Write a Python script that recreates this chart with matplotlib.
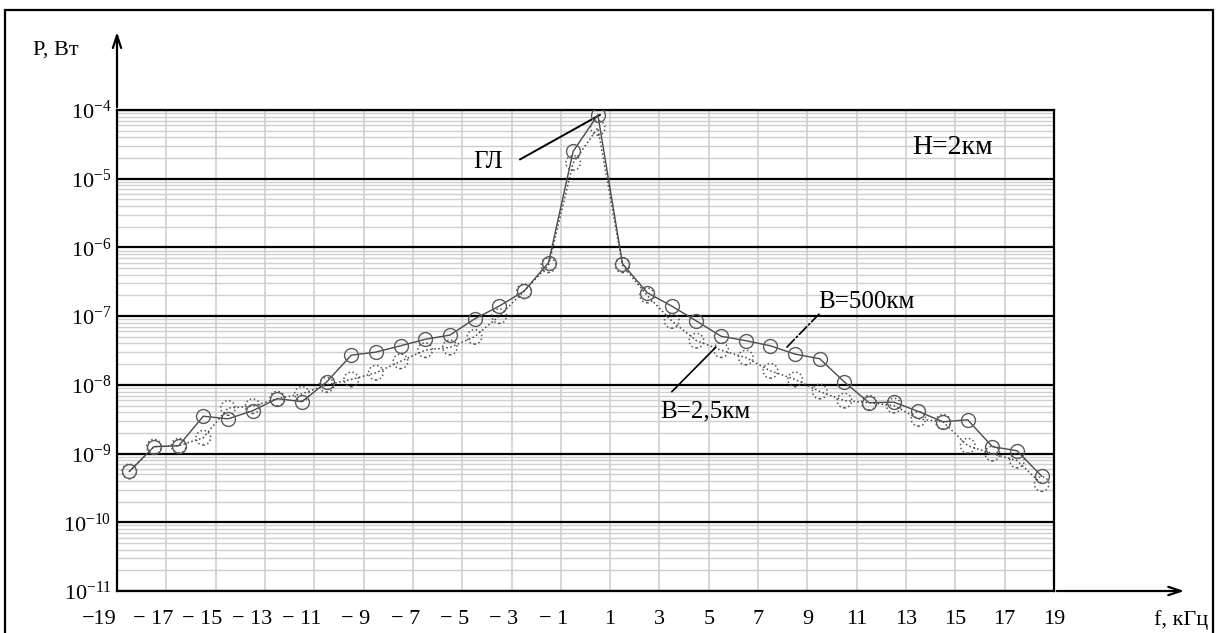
import numpy as np
import matplotlib
matplotlib.use("Agg")
import matplotlib.pyplot as plt
from matplotlib.transforms import ScaledTranslation
from matplotlib.patches import Rectangle

plt.rcParams['font.family'] = ['Liberation Serif', 'DejaVu Serif']
plt.rcParams['mathtext.fontset'] = 'custom'
plt.rcParams['mathtext.rm'] = 'Liberation Serif'
plt.rcParams['mathtext.it'] = 'Liberation Serif'

# frequency points, kHz
f_khz = [-18.5, -17.5, -16.5, -15.5, -14.5, -13.5, -12.5, -11.5, -10.5, -9.5,
         -8.5, -7.5, -6.5, -5.5, -4.5, -3.5, -2.5, -1.5, -0.5, 0.5,
         1.5, 2.5, 3.5, 4.5, 5.5, 6.5, 7.5, 8.5, 9.5, 10.5,
         11.5, 12.5, 13.5, 14.5, 15.5, 16.5, 17.5, 18.5]

# B=500 km (solid)
p_500 = [5.5e-10, 1.26e-9, 1.3e-9, 3.5e-9, 3.2e-9, 4.2e-9, 6.3e-9, 5.7e-9, 1.1e-8, 2.7e-8,
         3.0e-8, 3.7e-8, 4.6e-8, 5.3e-8, 9.1e-8, 1.4e-7, 2.3e-7, 6.0e-7, 2.5e-5, 8.5e-5,
         5.8e-7, 2.2e-7, 1.4e-7, 8.5e-8, 5.1e-8, 4.4e-8, 3.7e-8, 2.8e-8, 2.4e-8, 1.1e-8,
         5.5e-9, 5.6e-9, 4.1e-9, 2.9e-9, 3.1e-9, 1.26e-9, 1.1e-9, 4.7e-10]

# B=2,5 km (dotted)
p_25 = [5.5e-10, 1.26e-9, 1.3e-9, 1.7e-9, 4.6e-9, 4.9e-9, 6.3e-9, 7.4e-9, 1.0e-8, 1.2e-8,
        1.5e-8, 2.2e-8, 3.2e-8, 3.5e-8, 5.0e-8, 1.0e-7, 2.3e-7, 5.5e-7, 1.7e-5, 5.5e-5,
        5.5e-7, 2.0e-7, 8.5e-8, 4.4e-8, 3.2e-8, 2.5e-8, 1.6e-8, 1.2e-8, 8.0e-9, 5.9e-9,
        5.5e-9, 5.0e-9, 3.2e-9, 2.9e-9, 1.3e-9, 1.0e-9, 7.9e-10, 3.6e-10]

x_ticks = list(range(-19, 20, 2))
x_labels = ['\u221219', '\u2212 17', '\u2212 15', '\u2212 13', '\u2212 11', '\u2212 9',
            '\u2212 7', '\u2212 5', '\u2212 3', '\u2212 1',
            '1', '3', '5', '7', '9', '11', '13', '15', '17', '19']
y_decades = [-11, -10, -9, -8, -7, -6, -5, -4]

W, H = 1218, 633
fig = plt.figure(figsize=(W / 100, H / 100), dpi=100)
ax = fig.add_axes([117 / W, (H - 591) / H, 937 / W, 481 / H])

ax.set_yscale('log')
ax.set_xlim(-19, 19)
ax.set_ylim(1e-11, 1e-4)

# grid: light minor lines, black decades
for d in y_decades[:-1]:
    for m in range(2, 10):
        ax.axhline(m * 10.0 ** d, color='#cfcfcf', lw=1, zorder=0)
for xv in x_ticks[1:-1]:
    ax.axvline(xv, color='#cfcfcf', lw=1.2, zorder=0)
for d in y_decades:
    ax.axhline(10.0 ** d, color='black', lw=1.6, zorder=1)

# data
ax.plot(f_khz, p_25, ls=':', color='#444444', lw=1.1, zorder=3)
ax.scatter(f_khz, p_25, s=110, facecolors='none', edgecolors='#555555',
           linestyles=':', linewidths=1.1, zorder=3)
ax.plot(f_khz, p_500, ls='-', color='#4a4a4a', lw=1.0, marker='o', ms=10,
        mfc='none', mec='#5a5a5a', mew=1.0, zorder=4)

for s in ax.spines.values():
    s.set_color('black')
    s.set_linewidth(1.6)

ax.set_yticks([10.0 ** d for d in y_decades])
ax.set_yticklabels([r'$10^{-' + str(-d) + '}$' for d in y_decades])
ax.minorticks_off()
ax.tick_params(axis='y', length=0, pad=4, labelsize=16)
ax.set_xticks(x_ticks)
ax.set_xticklabels(x_labels)
ax.tick_params(axis='x', length=0, pad=14, labelsize=16)
for lbl, v in zip(ax.get_xticklabels(), x_ticks):
    if v < 0:
        lbl.set_ha('right')
        lbl.set_transform(lbl.get_transform() + ScaledTranslation(0.07 if v > -19 else 0.0, 0, fig.dpi_scale_trans))

# axis arrows
ax.annotate('', xy=(0, 1.168), xytext=(0, 1.0), xycoords='axes fraction',
            arrowprops=dict(arrowstyle='->,head_length=0.9,head_width=0.3', lw=1.6, color='black'),
            annotation_clip=False)
ax.annotate('', xy=(1.142, 0), xytext=(1.0, 0), xycoords='axes fraction',
            arrowprops=dict(arrowstyle='->,head_length=0.9,head_width=0.3', lw=1.6, color='black'),
            annotation_clip=False)

fig.text(33 / W, 1 - 50 / H, 'P, Вт', fontsize=16, va='center', ha='left')
fig.text(1181 / W, 1 - 620 / H, 'f, кГц', fontsize=16, va='center', ha='center')

# labels inside the chart
ax.text(14.9, 10 ** -4.55, 'H=2км', fontsize=20, ha='center', va='center')
ax.text(-3.95, 10 ** -4.75, 'ГЛ', fontsize=18, ha='center', va='center')
ax.text(11.4, 10 ** -6.8, 'B=500км', fontsize=18, ha='center', va='center')
ax.text(4.84, 10 ** -8.38, 'B=2,5км', fontsize=18, ha='center', va='center')

# leader lines
ax.annotate('', xy=(0.59, 10 ** -4.07), xytext=(-2.66, 10 ** -4.72),
            arrowprops=dict(arrowstyle='-', lw=1.4, color='black', shrinkA=0, shrinkB=0))
ax.annotate('', xy=(8.17, 10 ** -7.45), xytext=(9.47, 10 ** -6.97),
            arrowprops=dict(arrowstyle='-', lw=1.2, color='black', ls='-.', shrinkA=0, shrinkB=0))
ax.annotate('', xy=(5.29, 10 ** -7.45), xytext=(3.5, 10 ** -8.10),
            arrowprops=dict(arrowstyle='-', lw=1.2, color='black', shrinkA=0, shrinkB=0))

# outer frame
fig.add_artist(Rectangle((5 / W, -0.1), 1208 / W, 1.1 - 10 / H, transform=fig.transFigure,
                         fill=False, lw=1.6, edgecolor='black'))

fig.savefig('out.png', dpi=100)
